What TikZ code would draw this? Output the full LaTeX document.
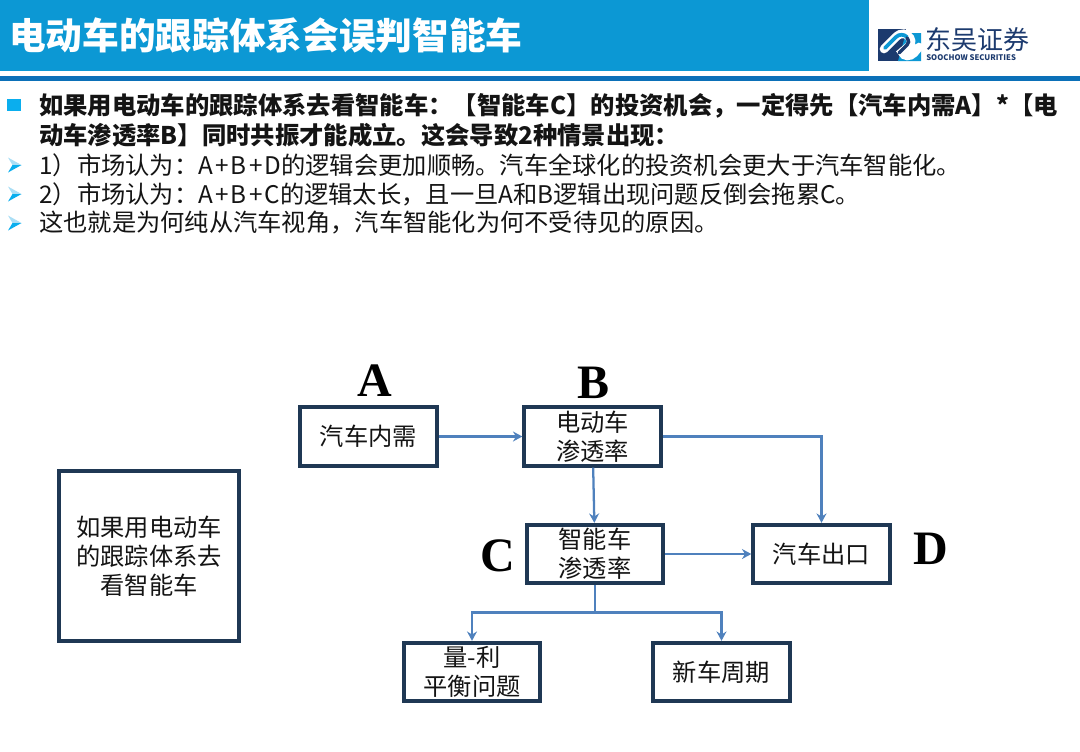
\documentclass[tikz,border=0pt]{standalone}
\usepackage{xcolor}
\usepackage{fontspec}
\setmainfont{Noto Sans CJK SC}
\newfontfamily\bigletter{Liberation Serif}
\usetikzlibrary{arrows.meta, positioning, calc}
\definecolor{SCBar}{RGB}{12, 152, 212}
\definecolor{SCLine}{RGB}{11, 112, 184}
\definecolor{SCBullet}{RGB}{10, 174, 238}
\definecolor{SCPale}{RGB}{170, 222, 245}
\definecolor{SCNavy}{RGB}{28, 58, 110}
\definecolor{SCBorder}{RGB}{31, 56, 84}
\definecolor{SCArrow}{RGB}{79, 129, 189}
\definecolor{SCText}{RGB}{20, 20, 20}
\newcommand{\wideabc}[1]{{\addfontfeature{LetterSpace=9}#1}}
\tikzset{
  flowbox/.style={draw=SCBorder, line width=2.8pt, fill=white, inner sep=0pt, minimum width=102.5pt, minimum height=44pt, align=center, font=\fontsize{18.2}{21.6}\selectfont, text=SCText},
  flowline/.style={SCArrow, line width=1.7pt, -{Stealth[length=7pt,width=7.5pt]}},
  bigmark/.style={font=\bigletter\bfseries\fontsize{36}{36}\selectfont, text=black},
  textline/.style={anchor=west, inner sep=0pt, text=SCText, font=\fontsize{18.2}{20}\selectfont},
  boldline/.style={textline, font=\fontsize{18.25}{20}\selectfont\bfseries}
}
\begin{document}
\begin{tikzpicture}[x=0.75pt,y=-0.75pt]
  \path[use as bounding box] (0,0) rectangle (1080,751);

  % Header
  \fill[SCBar] (0,0) rectangle (869,71);
  \fill[SCLine] (0,76) rectangle (1080,81);
  \node[anchor=west, inner sep=0pt, text=white] (title) at (9,36) {
    {\fontsize{27.5}{30}\selectfont\bfseries 电动车的跟踪体系会误判智能车}
  };

  % Logo
  \fill[SCNavy] (878,29) rectangle (906,61);
  \fill[SCBar] (906,33) -- (921,33) -- (921,61) -- (898,61) -- cycle;
  \draw[white, line width=6.5pt, line cap=round] (884,49) -- (896,37) .. controls (901,32) and (907,33) .. (910,38) .. controls (912,42) and (911,44) .. (908,47) -- (902,52) .. controls (904,57) and (910,57) .. (914,53) -- (919,47);
  \draw[SCBar, line width=2.8pt, line cap=round] (885,48) -- (896,37) .. controls (899,34) and (904,34) .. (907,37);
  \draw[SCNavy, line width=2.6pt, line cap=round] (907,38) .. controls (909,41) and (909,43) .. (907,45) -- (899,53);
  \node[anchor=west, inner sep=0pt, text=SCNavy] (logocn) at (925,40) {
    {\fontsize{19.5}{22}\selectfont 东吴证券}
  };
  \node[anchor=west, inner sep=0pt, text=SCNavy] (logoen) at (926,57.5) {
    {\fontsize{5.8}{7}\selectfont\bfseries SOOCHOW SECURITIES}
  };

  % Bullets
  \fill[SCBullet] (7,99) rectangle (21,111);
  \foreach \yy in {165,194,223} {
    \fill[SCPale] (8,\yy-7.5) -- (21.5,\yy) -- (12.5,\yy) -- cycle;
    \fill[SCBullet] (8,\yy+7.5) -- (21.5,\yy) -- (12.5,\yy) -- cycle;
  }
  \node[boldline] (lineone) at (39,106) {如果用电动车的跟踪体系去看智能车：【智能车C】的投资机会，一定得先【汽车内需A】*【电};
  \node[boldline] (linetwo) at (39,135) {动车渗透率B】同时共振才能成立。这会导致2种情景出现：};
  \node[textline] (linethree) at (39,165) {1）市场认为：\wideabc{A+B+D}的逻辑会更加顺畅。汽车全球化的投资机会更大于汽车智能化。};
  \node[textline] (linefour) at (39,194) {2）市场认为：\wideabc{A+B+C}的逻辑太长，且一旦\wideabc{A}和\wideabc{B}逻辑出现问题反倒会拖累\wideabc{C}。};
  \node[textline] (linefive) at (39,223) {这也就是为何纯从汽车视角，汽车智能化为何不受待见的原因。};

  % Boxes
  \node[flowbox, minimum width=135pt, minimum height=127.5pt] (nLeft) at (149,556) {如果用电动车\\的跟踪体系去\\看智能车};
  \node[flowbox] (nA) at (368.5,436.5) {汽车内需};
  \node[flowbox] (nB) at (592.5,436.5) {电动车\\渗透率};
  \node[flowbox] (nC) at (595,554) {智能车\\渗透率};
  \node[flowbox] (nD) at (821.5,554) {汽车出口};
  \node[flowbox] (nE) at (472,672) {量-利\\平衡问题};
  \node[flowbox] (nF) at (721.5,672) {新车周期};

  % Letters
  \node[bigmark] (markA) at (375,381) {A};
  \node[bigmark] (markB) at (593,383) {B};
  \node[bigmark] (markC) at (498,556) {C};
  \node[bigmark] (markD) at (931,549) {D};

  % Connectors
  \coordinate (split) at (nC.south |- 0,612.5);
  \draw[flowline] (nA) -- (nB);
  \draw[flowline] (nB) -- (nC);
  \draw[flowline] (nB) -| (nD);
  \draw[flowline] (nC) -- (nD);
  \draw[SCArrow, line width=1.7pt] (nC) -- (split);
  \draw[flowline] (split) -| (nE);
  \draw[flowline] (split) -| (nF);
\end{tikzpicture}
\end{document}
